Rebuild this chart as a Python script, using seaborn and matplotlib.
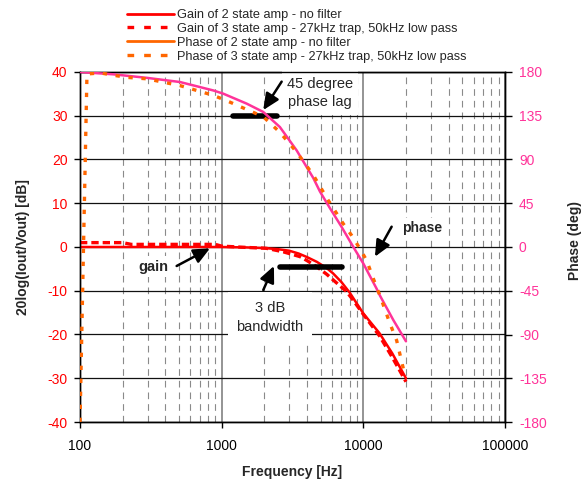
import numpy as np
import pandas as pd
import seaborn as sns
import matplotlib
matplotlib.use("Agg")
import matplotlib.pyplot as plt
from matplotlib.lines import Line2D
from matplotlib.ticker import LogLocator, FuncFormatter, FixedLocator, NullFormatter

# ---------------- data ----------------
gain2_f = [100, 200, 500, 1000, 1500, 2000, 2500, 3000, 3500, 4000, 4700, 5500, 6100,
           7000, 8000, 10000, 13000, 16000, 20000]
gain2_db = [0, 0, 0, 0, -0.1, -0.25, -0.5, -0.85, -1.5, -2.3, -3.4, -4.8, -6.0,
            -8.0, -10.4, -15.2, -19.7, -24.3, -30]

gain3_f = [100, 200, 230, 900, 1000, 1500, 2070, 2720, 3570, 4000, 4680, 5500, 6110,
           7620, 8500, 10000, 13000, 16000, 20000]
gain3_db = [1.0, 1.0, 0.6, 0.6, 0.2, -0.1, -0.3, -1.1, -2.2, -3.1, -4.5, -6.2, -7.5,
            -10.2, -12.2, -15.4, -20.3, -25.2, -30.8]

phase2_f = [100, 172, 296, 508, 874, 1023, 1500, 1966, 2576, 3378, 4432, 4943, 5808,
            7000, 8500, 10000, 12420, 13100, 16260, 20000]
phase2_deg = [180, 177.6, 174, 169.7, 161, 157.8, 147.5, 138.9, 123.4, 99.5, 71, 57, 40,
              21, 0, -17, -43, -50, -75, -97]

phase3_f = [100, 112, 140, 167, 213, 296, 508, 874, 1144, 1966, 2576, 3378, 4432, 5652,
            7211, 8260, 9462, 10540, 12080, 13100, 15420, 17180, 19150, 20000]
phase3_deg = [-180, 178, 179, 177, 174.5, 173, 166, 156, 149, 134, 118, 97.7, 74, 48,
              24, 12, -1.7, -13.7, -37, -50, -78.8, -96, -125, -131]

legend_labels = ["Gain of 2 state amp - no filter",
                 "Gain of 3 state amp - 27kHz trap, 50kHz low pass",
                 "Phase of 2 state amp - no filter",
                 "Phase of 3 state amp - 27kHz trap, 50kHz low pass"]

x_ticks = [100, 1000, 10000, 100000]
db_ticks = [-40, -30, -20, -10, 0, 10, 20, 30, 40]
deg_ticks = [-180, -135, -90, -45, 0, 45, 90, 135, 180]

# annotation bars (marker bars drawn on chart)
bar45_f = [1208, 2444]
bar45_db = [30, 30]
bar3db_f = [2576, 7030]
bar3db_db = [-4.5, -4.5]

RED = "#FF0000"
PINK = "#FF3399"
ORANGE = "#FF6600"

# ---------------- style ----------------
sns.set_style("white")
plt.rcParams["font.family"] = ["Liberation Sans", "DejaVu Sans"]
plt.rcParams["axes.unicode_minus"] = False

fig = plt.figure(figsize=(5.81, 4.79), dpi=100)
ax = fig.add_axes([80 / 581, 1 - 422 / 479, 425 / 581, 350 / 479])
ax.set_xscale("log")
ax.set_xlim(100, 100000)
ax.set_ylim(-40, 40)
ax2 = ax.twinx()
ax2.set_ylim(-180, 180)

df_g2 = pd.DataFrame({"f": gain2_f, "v": gain2_db})
df_g3 = pd.DataFrame({"f": gain3_f, "v": gain3_db})
df_p2 = pd.DataFrame({"f": phase2_f, "v": phase2_deg})
df_p3 = pd.DataFrame({"f": phase3_f, "v": phase3_deg})

sns.lineplot(data=df_g2, x="f", y="v", ax=ax, color=RED, lw=1.8, sort=False,
             estimator=None, zorder=4)
sns.lineplot(data=df_g3, x="f", y="v", ax=ax, color=RED, lw=2.4, sort=False,
             estimator=None, zorder=4)
ax.lines[-1].set_dashes((2.2, 1.2))

sns.lineplot(data=df_p2, x="f", y="v", ax=ax2, color=PINK, lw=1.8, sort=False,
             estimator=None, zorder=4)
sns.lineplot(data=df_p3, x="f", y="v", ax=ax2, color=ORANGE, lw=2.4, sort=False,
             estimator=None, zorder=5)
ax2.lines[-1].set_dashes((1.3, 2.6))

ax2.set_xscale("log")
ax2.set_xlim(100, 100000)

# bars
ax.plot(bar45_f, bar45_db, color="black", lw=4, solid_capstyle="round", zorder=6)
ax.plot(bar3db_f, bar3db_db, color="black", lw=4, solid_capstyle="round", zorder=6)

# ---------------- grid & axes ----------------
ax.set_axisbelow(True)
ax.xaxis.set_major_locator(FixedLocator(x_ticks))
ax.xaxis.set_major_formatter(FuncFormatter(lambda v, p: f"{int(round(v))}"))
ax.xaxis.set_minor_locator(LogLocator(base=10, subs=np.arange(2, 10), numticks=20))
ax.xaxis.set_minor_formatter(NullFormatter())
ax.set_yticks(db_ticks)
ax2.set_yticks(deg_ticks)
ax2.xaxis.set_major_locator(FixedLocator(x_ticks))
ax2.xaxis.set_minor_formatter(NullFormatter())

ax.grid(True, which="major", axis="y", color="#111111", lw=0.9, ls="-")
ax.grid(True, which="major", axis="x", color="#777777", lw=1.1, ls="-")
ax.grid(True, which="minor", axis="x", color="#8a8a8a", lw=0.8, ls=(0, (6, 4.5)))

for a in (ax, ax2):
    for s in a.spines.values():
        s.set_color("black")
        s.set_linewidth(1.0)
        s.set_visible(True)

ax.tick_params(axis="y", which="major", direction="out", length=4, width=1,
               colors="black", labelcolor=RED, labelsize=10, pad=5, left=True)
ax.tick_params(axis="x", which="major", direction="out", length=4, width=1,
               colors="black", labelcolor="black", labelsize=10, pad=8, bottom=True)
ax.tick_params(axis="x", which="minor", length=0)
ax2.tick_params(axis="y", which="major", direction="out", length=5, width=1,
                colors="black", labelcolor=PINK, labelsize=10, pad=5, right=True)
ax2.tick_params(axis="x", which="both", length=0)

ax.set_xlabel("Frequency [Hz]", fontsize=10, fontweight="bold")
ax.xaxis.set_label_coords(0.5, -0.123)
ax.set_ylabel("20log(Iout/Vout) [dB]", fontsize=10, fontweight="bold")
ax.yaxis.set_label_coords(-0.118, 0.5)
ax2.set_ylabel("Phase (deg)", fontsize=10, fontweight="bold")
ax2.yaxis.set_label_coords(1.148, 0.52)

# ---------------- annotations ----------------
arrow_kw = dict(arrowstyle="-|>,head_length=0.7,head_width=0.32", lw=1.8,
                color="black", shrinkA=0, shrinkB=0, mutation_scale=14)

ax.text(4940, 35.2, "45 degree\nphase lag", ha="center", va="center", fontsize=10.5,
        linespacing=1.45, zorder=3,
        bbox=dict(boxstyle="square,pad=0.35", fc="white", ec="none"))
ax.annotate("", xy=(1966, 31.3), xytext=(2651, 37.8), arrowprops=arrow_kw, zorder=7)

ax.text(2193, -16.05, "3 dB\nbandwidth", ha="center", va="center", fontsize=10.5,
        linespacing=1.45, zorder=3,
        bbox=dict(boxstyle="square,pad=0.6", fc="white", ec="none"))
ax.annotate("", xy=(2339, -4.34), xytext=(1966, -9.83), arrowprops=arrow_kw, zorder=7)

ax.text(25790, 4.27, "phase", ha="center", va="center", fontsize=10,
        fontweight="bold", zorder=3,
        bbox=dict(boxstyle="square,pad=0.25", fc="white", ec="none"))
ax.annotate("", xy=(12076, -2.22), xytext=(15840, 4.64), arrowprops=arrow_kw, zorder=7)

ax.text(327, -4.5, "gain", ha="center", va="center", fontsize=10.5,
        fontweight="bold", zorder=3,
        bbox=dict(boxstyle="square,pad=0.25", fc="white", ec="none"))
ax.annotate("", xy=(827, -0.3), xytext=(481, -4.34), arrowprops=arrow_kw, zorder=7)

# ---------------- legend ----------------
handles = [
    Line2D([], [], color=RED, lw=2),
    Line2D([], [], color=RED, lw=2.4, dashes=(2.0, 3.0)),
    Line2D([], [], color=ORANGE, lw=2),
    Line2D([], [], color=ORANGE, lw=2.4, dashes=(2.0, 3.0)),
]
fig.legend(handles, legend_labels, loc="upper left",
           bbox_to_anchor=(127 / 581, 1 - 9 / 479), frameon=False, fontsize=9.2,
           handlelength=3.7, handletextpad=0.25, labelspacing=0.15,
           borderpad=0, borderaxespad=0)

fig.savefig("out.png", dpi=100)
